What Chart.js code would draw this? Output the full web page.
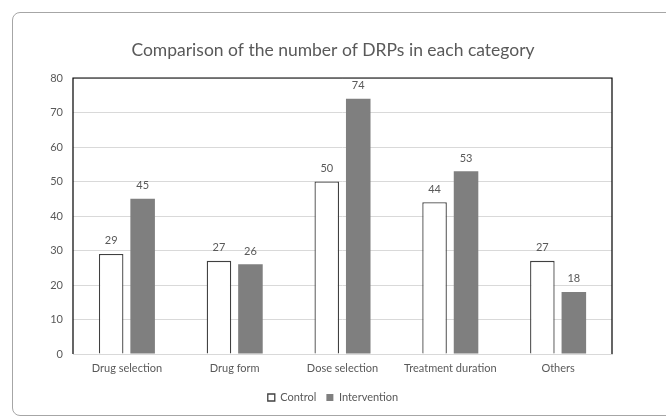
<!DOCTYPE html>
<html>
<head>
<meta charset="utf-8">
<script src="https://cdn.jsdelivr.net/npm/chart.js@4/dist/chart.umd.min.js"></script>
<style>
  html, body { margin: 0; padding: 0; background: #ffffff; }
  #wrap { position: relative; width: 666px; height: 419px; overflow: hidden; }
  #frame {
    position: absolute; left: 12px; top: 12px; width: 680px; height: 404px;
    border: 1px solid #a6a6a6; border-radius: 8px; box-sizing: border-box;
  }
  canvas { position: absolute; left: 0; top: 0; }
</style>
</head>
<body>
<div id="wrap">
  <div id="frame"></div>
  <canvas id="chart" width="666" height="419"></canvas>
</div>
<script>
// Categories and counts of drug-related problems
const categories = ['Drug selection', 'Drug form', 'Dose selection', 'Treatment duration', 'Others'];
const controlValues = [29, 27, 50, 44, 27];
const interventionValues = [45, 26, 74, 53, 18];
const yTicks = [0, 10, 20, 30, 40, 50, 60, 70, 80];

const FONT = 'Lato, "Open Sans", sans-serif';
const TEXT = '#595959';

// Black frame on the left, top and right of the plot area
const plotFrame = {
  id: 'plotFrame',
  beforeDatasetsDraw(chart) {
    const { ctx, chartArea: a } = chart;
    ctx.save();
    ctx.strokeStyle = '#000000';
    ctx.lineWidth = 1.2;
    ctx.beginPath();
    ctx.moveTo(a.left, a.bottom);
    ctx.lineTo(a.left, a.top);
    ctx.lineTo(a.right, a.top);
    ctx.lineTo(a.right, a.bottom);
    ctx.stroke();
    ctx.restore();
  }
};

// Value labels above each bar
const valueLabels = {
  id: 'valueLabels',
  afterDatasetsDraw(chart) {
    const { ctx } = chart;
    ctx.save();
    ctx.font = '11px ' + FONT;
    ctx.fillStyle = TEXT;
    ctx.textAlign = 'center';
    ctx.textBaseline = 'middle';
    chart.data.datasets.forEach((ds, i) => {
      chart.getDatasetMeta(i).data.forEach((bar, j) => {
        ctx.fillText(String(ds.data[j]), bar.x, bar.y - 13);
      });
    });
    ctx.restore();
  }
};

new Chart(document.getElementById('chart'), {
  type: 'bar',
  data: {
    labels: categories,
    datasets: [
      {
        label: 'Control',
        data: controlValues,
        backgroundColor: '#ffffff',
        borderColor: '#404040',
        borderWidth: 1.3,
        borderSkipped: 'start'
      },
      {
        label: 'Intervention',
        data: interventionValues,
        backgroundColor: '#7f7f7f',
        borderWidth: 0
      }
    ]
  },
  options: {
    responsive: false,
    animation: false,
    devicePixelRatio: 1,
    categoryPercentage: 0.584,
    barPercentage: 0.78,
    layout: { padding: { left: 0, right: 0, top: 0, bottom: 6 } },
    plugins: {
      title: {
        display: true,
        text: 'Comparison of the number of DRPs in each category',
        color: TEXT,
        font: { family: FONT, size: 17.5, weight: 'normal' },
        padding: { top: 40, bottom: 17 }
      },
      legend: {
        position: 'bottom',
        labels: {
          color: TEXT,
          font: { family: FONT, size: 11 },
          boxWidth: 7,
          boxHeight: 7,
          padding: 10
        }
      },
      tooltip: { enabled: false }
    },
    scales: {
      x: {
        grid: { display: false, drawTicks: false },
        border: { display: true, color: '#d9d9d9', width: 1 },
        ticks: { color: TEXT, font: { family: FONT, size: 11 }, padding: 8, maxRotation: 0 },
        afterFit(s) { s.height = 28; }
      },
      y: {
        min: 0,
        max: 80,
        afterBuildTicks(s) { s.ticks = yTicks.map(v => ({ value: v })); },
        grid: { color: '#d9d9d9', lineWidth: 1, drawTicks: false },
        border: { display: false },
        ticks: { color: TEXT, font: { family: FONT, size: 11 }, padding: 10 },
        afterFit(s) { s.width = 73; }
      },
      // empty right-hand margin so the plot ends short of the frame
      yMargin: {
        position: 'right',
        min: 0,
        max: 80,
        grid: { display: false, drawTicks: false },
        border: { display: false },
        ticks: { display: false },
        afterFit(s) { s.width = 54; }
      }
    }
  },
  plugins: [plotFrame, valueLabels]
});
</script>
</body>
</html>
